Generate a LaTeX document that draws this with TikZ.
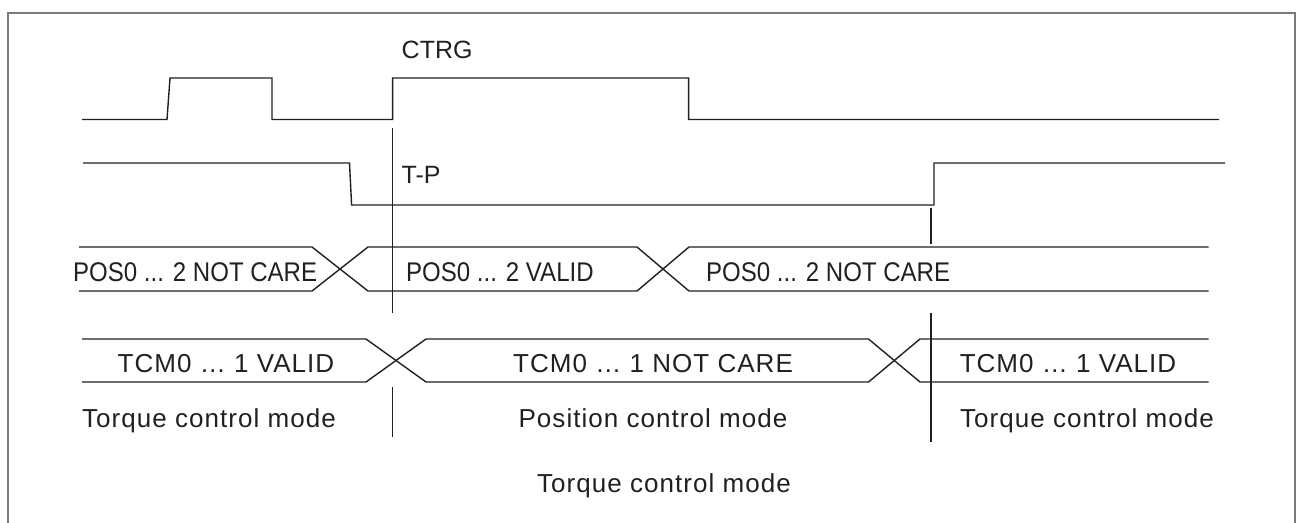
\documentclass[tikz,border=0pt]{standalone}
\usepackage{fontspec}
\setmainfont{Liberation Sans}
\newfontfamily\busfont[FakeStretch=0.89]{Liberation Sans}
\newfontfamily\spfont[LetterSpace=4]{Liberation Sans}
\definecolor{ink}{HTML}{231F20}
\definecolor{framegray}{HTML}{7A7A7A}
\tikzset{
  sig/.style={line width=1.4pt, draw=ink, line join=miter},
  guide/.style={line width=1.1pt, draw=ink},
  framebox/.style={line width=1.8pt, draw=framegray},
  nametxt/.style={inner sep=0pt, text=ink, font=\fontsize{25}{28}\selectfont},
  bustxt/.style={inner sep=0pt, text=ink, font=\busfont\fontsize{27}{30}\selectfont},
  sptxt/.style={inner sep=0pt, text=ink, font=\spfont\fontsize{26}{30}\selectfont}
}
\begin{document}
\begin{tikzpicture}[x=1pt,y=-1pt]
\useasboundingbox (0,0) rectangle (1300,522);
% frame (open at the bottom)
\draw[framebox] (8,523) -- (8,13) -- (1295,13) -- (1295,523);

% CTRG signal
\draw[sig] (82,119.5) -- (167,119.5) -- (170,78) -- (272,78) -- (272,119.5)
  -- (392.6,119.5) -- (392.6,78) -- (688.6,78) -- (688.6,119.5) -- (1219,119.5);
% T-P signal
\draw[sig] (83,163) -- (349.5,163) -- (351.6,205) -- (934,205) -- (934,163) -- (1225,163);

% POS bus
\draw[sig] (79,247) -- (312,247) -- (368,291) -- (637,291) -- (689,247) -- (1208.5,247);
\draw[sig] (79,291) -- (312,291) -- (368,247) -- (637,247) -- (689,291) -- (1208.5,291);
% TCM bus
\draw[sig] (82,339) -- (366,339) -- (426,382) -- (868.5,382) -- (920,339) -- (1208.5,339);
\draw[sig] (82,382) -- (366,382) -- (426,339) -- (868.5,339) -- (920,382) -- (1208.5,382);

% guide lines
\coordinate (g1a) at (392.6,128);
\coordinate (g1b) at (392.6,313);
\coordinate (g1c) at (392.6,387);
\coordinate (g1d) at (392.6,437);
\coordinate (g2a) at (931,208);
\coordinate (g2b) at (931,244);
\coordinate (g2c) at (931,313);
\coordinate (g2d) at (931,442);
\draw[guide] (g1a) -- (g1b);
\draw[guide] (g1c) -- (g1d);
\draw[guide] (g2a) -- (g2b);
\draw[guide] (g2c) -- (g2d);

% labels
\node[nametxt, anchor=base west] (ctrg) at (401.5,58.3) {CTRG};
\node[nametxt, anchor=base west] (tp) at (401.5,183) {T-P};

\node[bustxt, anchor=base west] (pos1) at (73,281) {POS0 ... 2 NOT CARE};
\node[bustxt, anchor=base west] (pos2) at (406,281) {POS0 ... 2 VALID};
\node[bustxt, anchor=base west] (pos3) at (706,281) {POS0 ... 2 NOT CARE};

\node[sptxt, anchor=base] (tcm1) at (226,372) {TCM0 … 1 VALID};
\node[sptxt, anchor=base] (tcm2) at (653,372) {TCM0 … 1 NOT CARE};
\node[sptxt, anchor=base] (tcm3) at (1068,372) {TCM0 … 1 VALID};

\node[sptxt, anchor=base] (mode1) at (209,427) {Torque control mode};
\node[sptxt, anchor=base] (mode2) at (653,427) {Position control mode};
\node[sptxt, anchor=base] (mode3) at (1087,427) {Torque control mode};
\node[sptxt, anchor=base] (mode4) at (664,492) {Torque control mode};
\end{tikzpicture}
\end{document}
